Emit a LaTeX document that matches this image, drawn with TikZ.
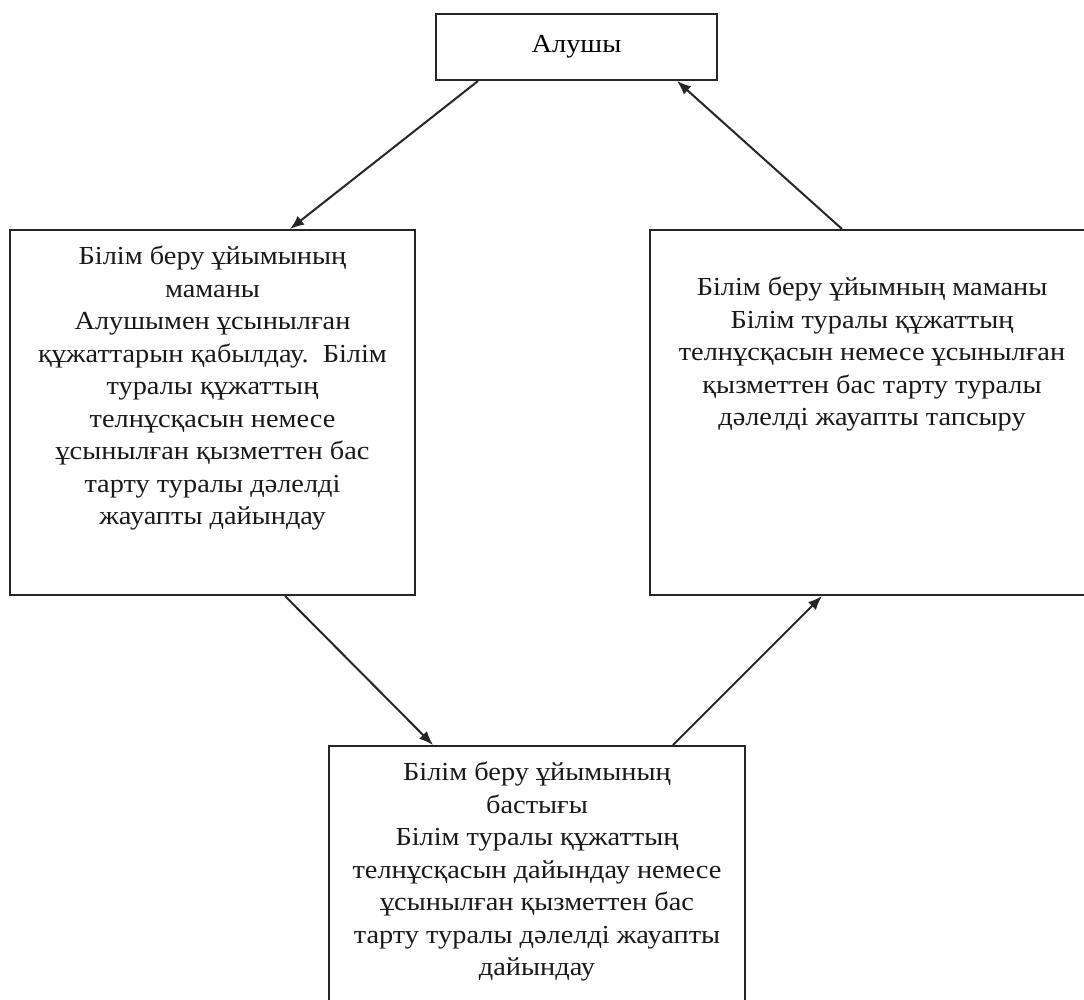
\documentclass[tikz,border=0pt]{standalone}
\usepackage{fontspec}
\setmainfont[FakeStretch=1.09]{Liberation Serif}
\usetikzlibrary{arrows.meta}
\tikzset{
  box/.style={draw=black!85, line width=2pt, fill=white, rectangle, inner sep=0pt, anchor=north west},
  boxtext/.style={align=center, inner sep=0pt, anchor=north, font=\fontsize{26}{32.5}\selectfont, text=black!90},
  arr/.style={draw=black!85, line width=2pt, -{Latex[length=14pt,width=11pt]}}
}
\begin{document}
\begin{tikzpicture}[x=1pt,y=-1pt]
\useasboundingbox (0,0) rectangle (1084,999);
\fill[white] (0,0) rectangle (1084,999);
\clip (0,0) rectangle (1084,999);
% boxes
\node[box, minimum width=281pt, minimum height=66pt, font=\fontsize{26}{32.5}\selectfont] (top) at (435,13) {Алушы};
\node[box, minimum width=405pt, minimum height=365pt] (left) at (9,229) {};
\node[box, minimum width=444pt, minimum height=365pt] (right) at (649,229) {};
\node[box, minimum width=416pt, minimum height=280pt] (bottom) at (328,745) {};
% texts
\node[boxtext] (lefttext) at ([yshift=-17pt]left.north) {Білім беру ұйымының\\маманы\\Алушымен ұсынылған\\құжаттарын қабылдау.\ \ Білім\\туралы құжаттың\\телнұсқасын немесе\\ұсынылған қызметтен бас\\тарту туралы дәлелді\\жауапты дайындау};
\node[boxtext] (righttext) at ([yshift=-48pt]right.north) {Білім беру ұйымның маманы\\Білім туралы құжаттың\\телнұсқасын немесе ұсынылған\\қызметтен бас тарту туралы\\дәлелді жауапты тапсыру};
\node[boxtext] (bottomtext) at ([yshift=-17pt]bottom.north) {Білім беру ұйымының\\бастығы\\Білім туралы құжаттың\\телнұсқасын дайындау немесе\\ұсынылған қызметтен бас\\тарту туралы дәлелді жауапты\\дайындау};
% connectors
\draw[arr] ([xshift=43pt]top.south west) -- ([xshift=281pt]left.north west);
\draw[arr] ([xshift=193pt]right.north west) -- ([xshift=242pt]top.south west);
\draw[arr] ([xshift=276pt]left.south west) -- ([xshift=105pt]bottom.north west);
\draw[arr] ([xshift=345pt]bottom.north west) -- ([xshift=173pt]right.south west);
\end{tikzpicture}
\end{document}
